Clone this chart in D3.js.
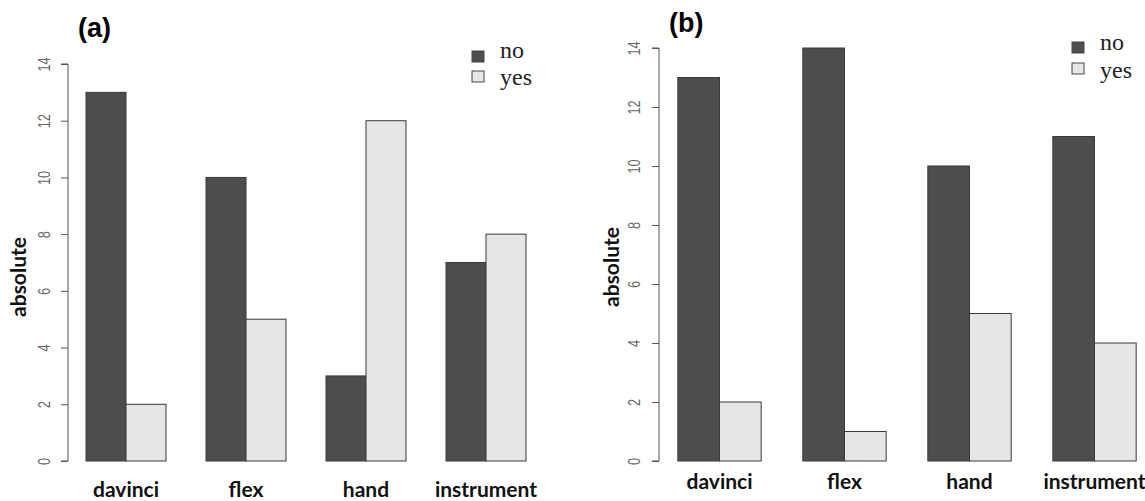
<!DOCTYPE html>
<html>
<head>
<meta charset="utf-8">
<script src="https://cdn.jsdelivr.net/npm/d3@7"></script>
<style>
  body { margin: 0; background: #fff; }
  svg { display: block; }
</style>
</head>
<body>
<div id="chart"></div>
<script>
// data
const categories = ['davinci', 'flex', 'hand', 'instrument'];
const groups = ['no', 'yes'];
const noA = [13, 10, 3, 7];
const yesA = [2, 5, 12, 8];
const noB = [13, 14, 10, 11];
const yesB = [2, 1, 5, 4];
const yTicks = [0, 2, 4, 6, 8, 10, 12, 14];

const width = 1145;
const height = 501;
const colors = { no: '#4d4d4d', yes: '#e6e6e6' };

const svg = d3.select('#chart').append('svg')
    .attr('width', width)
    .attr('height', height);

// layout for each panel
const panels = [
    { title: '(a)', no: noA, yes: yesA,
      titleX: 78, titleY: 37,
      axisX: 68, top: 64, bottom: 461,
      xRange: [66, 546], tickLabelX: 50,
      yLabelX: 26, yLabelY: 277, catY: 497,
      legX: 472, legY: 51, legGap: 20,
      legTextY: [58, 85] },
    { title: '(b)', no: noB, yes: yesB,
      titleX: 669, titleY: 32,
      axisX: 659, top: 48, bottom: 461,
      xRange: [657, 1157], tickLabelX: 640,
      yLabelX: 619, yLabelY: 267, catY: 489,
      legX: 1072, legY: 42, legGap: 21,
      legTextY: [50, 78] }
];

panels.forEach(p => {
    const g = svg.append('g');

    const yScale = d3.scaleLinear()
        .domain([0, 14])
        .range([p.bottom, p.top]);

    const xScale = d3.scaleBand()
        .domain(categories)
        .range(p.xRange)
        .paddingInner(1 / 3)
        .paddingOuter(1 / 6);

    const subScale = d3.scaleBand()
        .domain(groups)
        .range([0, xScale.bandwidth()]);

    // y axis, R style: ticks rotated, grey
    const yAxis = d3.axisLeft(yScale)
        .tickValues(yTicks)
        .tickSize(7)
        .tickSizeOuter(0)
        .tickFormat(d3.format('d'));

    const yAxis_g = g.append('g')
        .attr('transform', `translate(${p.axisX}, 0)`)
        .call(yAxis);

    yAxis_g.select('.domain')
        .attr('stroke', '#555')
        .attr('d', `M-7,${p.bottom}H0V${p.top}H-7`);
    yAxis_g.selectAll('.tick line').attr('stroke', '#555');
    yAxis_g.selectAll('.tick text')
        .attr('x', 0)
        .attr('y', 0)
        .attr('dy', 0)
        .attr('transform', `translate(${p.tickLabelX - p.axisX}, 0) rotate(-90) scale(0.8, 1)`)
        .attr('text-anchor', 'middle')
        .style('font-family', 'Liberation Sans, Arial, sans-serif')
        .style('font-size', '16px')
        .attr('fill', '#666');

    // bars
    const rows = categories.map((c, i) => ({ cat: c, no: p.no[i], yes: p.yes[i] }));

    const barGroups = g.selectAll('g.cat')
        .data(rows)
        .enter()
        .append('g')
        .attr('class', 'cat')
        .attr('transform', d => `translate(${xScale(d.cat)}, 0)`);

    barGroups.selectAll('rect')
        .data(d => groups.map(k => ({ key: k, value: d[k] })))
        .enter()
        .append('rect')
        .attr('x', d => subScale(d.key))
        .attr('y', d => yScale(d.value))
        .attr('width', subScale.bandwidth())
        .attr('height', d => yScale(0) - yScale(d.value))
        .attr('fill', d => colors[d.key])
        .attr('stroke', '#3a3a3a')
        .attr('stroke-width', 1);

    // category labels
    g.selectAll('text.cat')
        .data(categories)
        .enter()
        .append('text')
        .attr('class', 'cat')
        .attr('x', d => xScale(d) + xScale.bandwidth() / 2)
        .attr('y', p.catY)
        .attr('text-anchor', 'middle')
        .style('font-family', 'Lato, Open Sans, sans-serif')
        .style('font-weight', 'bold')
        .style('font-size', '21px')
        .attr('fill', '#111')
        .text(d => d);

    // y label
    g.append('text')
        .attr('transform', `translate(${p.yLabelX}, ${p.yLabelY}) rotate(-90)`)
        .attr('text-anchor', 'middle')
        .style('font-family', 'Lato, Open Sans, sans-serif')
        .style('font-weight', 'bold')
        .style('font-size', '21px')
        .attr('fill', '#111')
        .text('absolute');

    // panel title
    g.append('text')
        .attr('x', p.titleX)
        .attr('y', p.titleY)
        .style('font-family', 'Liberation Sans, Arial, sans-serif')
        .style('font-weight', 'bold')
        .style('font-size', '27px')
        .attr('fill', '#000')
        .text(p.title);

    // legend
    const leg = g.append('g')
        .attr('transform', `translate(${p.legX}, 0)`);
    groups.forEach((k, i) => {
        leg.append('rect')
            .attr('x', 0)
            .attr('y', p.legY + i * p.legGap)
            .attr('width', 12)
            .attr('height', 11)
            .attr('fill', colors[k])
            .attr('stroke', '#444');
        leg.append('text')
            .attr('x', 28)
            .attr('y', p.legTextY[i])
            .style('font-family', 'Liberation Serif, Times New Roman, serif')
            .style('font-size', '24px')
            .attr('fill', '#222')
            .text(k);
    });
});
</script>
</body>
</html>
